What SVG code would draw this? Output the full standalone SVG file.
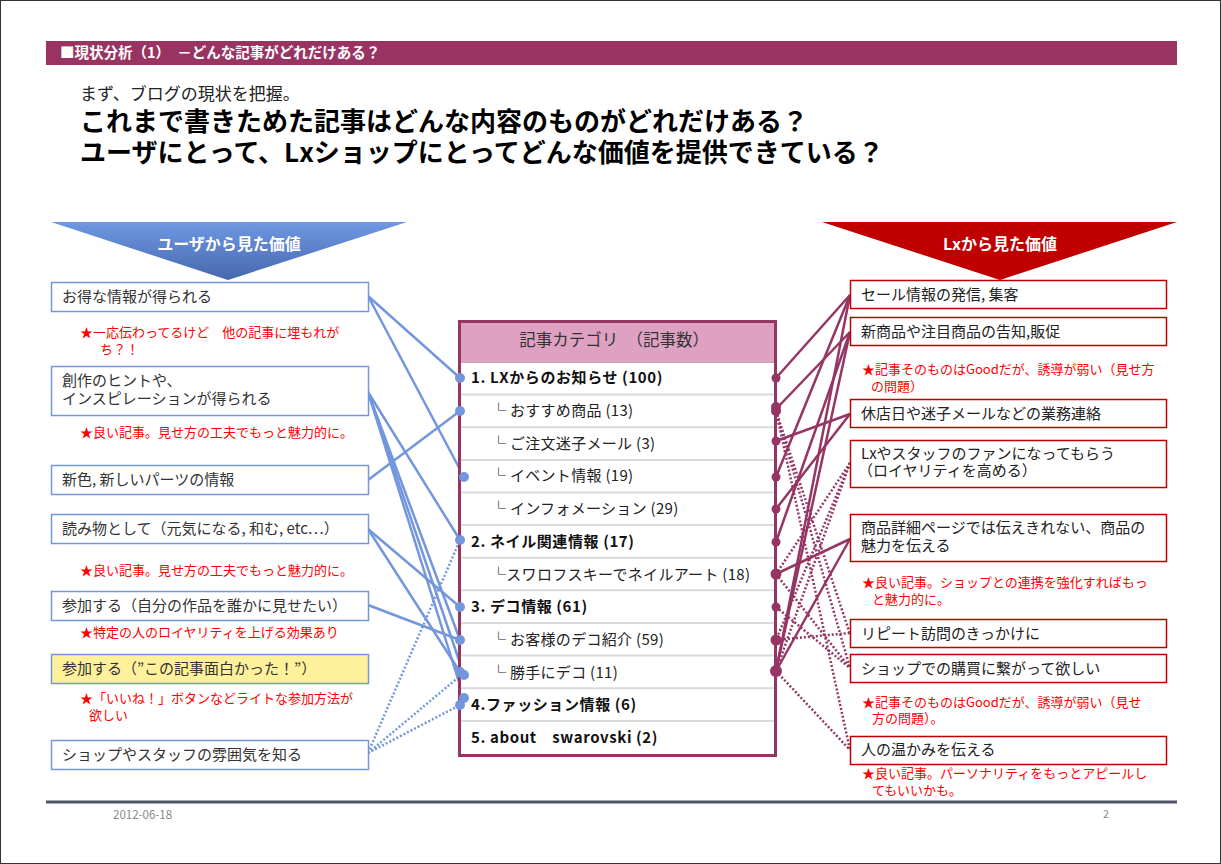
<svg xmlns="http://www.w3.org/2000/svg" width="1221" height="864" viewBox="0 0 1221 864">
<defs>
<linearGradient id="gBlue" x1="0" y1="0" x2="0" y2="1">
<stop offset="0" stop-color="#6f98e3"/>
<stop offset="1" stop-color="#4667ad"/>
</linearGradient>
<style>
text{font-family:"Noto Sans CJK JP","Noto Sans",sans-serif;}
.lbox{fill:#fff;stroke:#7396dc;stroke-width:1.5;}
.rbox{fill:#fff;stroke:#c00000;stroke-width:1.5;}
.bt{font-size:15px;fill:#333;}
.note{font-size:13px;fill:#ff0000;}
.lc{stroke:#7396dc;stroke-width:2.5;fill:none;}
.ld{stroke:#7396dc;stroke-width:2.5;fill:none;stroke-dasharray:2 2;}
.rc{stroke:#953563;stroke-width:2.5;fill:none;}
.rd{stroke:#953563;stroke-width:2.5;fill:none;stroke-dasharray:2 2;}
.ldot{fill:#7396dc;}
.rdot{fill:#953563;}
.row{font-size:15px;fill:#222;letter-spacing:0.3px;}
.rowb{font-size:15px;fill:#111;font-weight:bold;letter-spacing:0.6px;}
.sep{stroke:#dadada;stroke-width:2;}
</style>
</defs>
<rect x="0.5" y="0.5" width="1220" height="863" fill="#fff" stroke="#333" stroke-width="1"/>

<g id="header">
<rect x="46" y="41" width="1131" height="24" fill="#993462"/>
<text x="60" y="58" style="font-size:14.5px;font-weight:bold;fill:#fff;">■現状分析（1）　－どんな記事がどれだけある？</text>
<text x="80" y="100" style="font-size:17px;fill:#222;">まず、ブログの現状を把握。</text>
<text x="80" y="131" style="font-size:26px;font-weight:bold;fill:#000;">これまで書きためた記事はどんな内容のものがどれだけある？</text>
<text x="80" y="162" style="font-size:26px;font-weight:bold;fill:#000;">ユーザにとって、Lxショップにとってどんな価値を提供できている？</text>
</g>

<g id="banner-user">
<polygon points="51,222 407,222 228,280" fill="url(#gBlue)"/>
<text x="229" y="250" text-anchor="middle" style="font-size:16px;font-weight:bold;fill:#fff;">ユーザから見た価値</text>
</g>
<g id="banner-lx">
<polygon points="822,222 1177,222 1000,280" fill="#c00000"/>
<text x="1000" y="250" text-anchor="middle" style="font-size:16px;font-weight:bold;fill:#fff;">Lxから見た価値</text>
</g>

<g id="connectors">
<line class="lc" x1="368" y1="296" x2="460" y2="378"/>
<line class="lc" x1="368" y1="296" x2="464" y2="477"/>
<line class="lc" x1="368" y1="392" x2="460" y2="540"/>
<line class="lc" x1="368" y1="392" x2="460" y2="640"/>
<line class="lc" x1="368" y1="392" x2="464" y2="675"/>
<line class="lc" x1="368" y1="392" x2="464" y2="698"/>
<line class="lc" x1="368" y1="480" x2="460" y2="411"/>
<line class="lc" x1="368" y1="529" x2="460" y2="607"/>
<line class="lc" x1="368" y1="529" x2="460" y2="672"/>
<line class="lc" x1="368" y1="605" x2="460" y2="640"/>
<line class="ld" x1="368" y1="753" x2="460" y2="540"/>
<line class="ld" x1="368" y1="753" x2="460" y2="676"/>
<line class="ld" x1="368" y1="753" x2="460" y2="705"/>

<line class="rc" x1="850" y1="295" x2="776" y2="378"/>
<line class="rc" x1="850" y1="295" x2="776" y2="477"/>
<line class="rc" x1="850" y1="295" x2="776" y2="671"/>
<line class="rc" x1="850" y1="332" x2="776" y2="409"/>
<line class="rc" x1="850" y1="332" x2="776" y2="542"/>
<line class="rc" x1="850" y1="332" x2="776" y2="671"/>
<line class="rc" x1="850" y1="414" x2="776" y2="441"/>
<line class="rc" x1="850" y1="414" x2="776" y2="509"/>
<line class="rc" x1="850" y1="539" x2="776" y2="574"/>
<line class="rc" x1="850" y1="539" x2="776" y2="671"/>
<line class="rd" x1="850" y1="463" x2="776" y2="574"/>
<line class="rd" x1="850" y1="463" x2="776" y2="640"/>
<line class="rd" x1="850" y1="463" x2="776" y2="671"/>
<line class="rd" x1="776" y1="411" x2="850" y2="634"/>
<line class="rd" x1="776" y1="411" x2="850" y2="668"/>
<line class="rd" x1="776" y1="411" x2="850" y2="750"/>
<line class="rd" x1="776" y1="574" x2="850" y2="668"/>
<line class="rd" x1="776" y1="607" x2="850" y2="668"/>
<line class="rd" x1="776" y1="640" x2="850" y2="633"/>
<line class="rd" x1="776" y1="671" x2="850" y2="750"/>
</g>

<g id="user-1">
<rect class="lbox" x="51.5" y="282.5" width="317" height="29"/>
<text class="bt" x="62" y="302">お得な情報が得られる</text>
</g>
<text class="note" x="80" y="337">★一応伝わってるけど　他の記事に埋もれが</text>
<text class="note" x="100" y="354">ち？！</text>
<g id="user-2">
<rect class="lbox" x="51.5" y="366.5" width="317" height="49"/>
<text class="bt" x="62" y="386">創作のヒントや、</text>
<text class="bt" x="62" y="404">インスピレーションが得られる</text>
</g>
<text class="note" x="80" y="437">★良い記事。見せ方の工夫でもっと魅力的に。</text>
<g id="user-3">
<rect class="lbox" x="51.5" y="465.5" width="317" height="29"/>
<text class="bt" x="62" y="485">新色, 新しいパーツの情報</text>
</g>
<g id="user-4">
<rect class="lbox" x="51.5" y="514.5" width="317" height="29"/>
<text class="bt" x="62" y="534">読み物として（元気になる, 和む, etc…）</text>
</g>
<text class="note" x="80" y="575">★良い記事。見せ方の工夫でもっと魅力的に。</text>
<g id="user-5">
<rect class="lbox" x="51.5" y="591.5" width="317" height="29"/>
<text class="bt" x="62" y="611">参加する（自分の作品を誰かに見せたい）</text>
</g>
<text class="note" x="80" y="637">★特定の人のロイヤリティを上げる効果あり</text>
<g id="user-6">
<rect class="lbox" x="51.5" y="654.5" width="317" height="29" style="fill:#fff09b;"/>
<text class="bt" x="62" y="674">参加する（”この記事面白かった！”）</text>
</g>
<text class="note" x="80" y="703">★「いいね！」ボタンなどライトな参加方法が</text>
<text class="note" x="89" y="720">欲しい</text>
<g id="user-7">
<rect class="lbox" x="51.5" y="740.5" width="317" height="29"/>
<text class="bt" x="62" y="760">ショップやスタッフの雰囲気を知る</text>
</g>

<g id="category-table">
<rect x="459.5" y="321.5" width="316" height="434" fill="#fff"/>
<rect x="459.5" y="321.5" width="316" height="41" fill="#dfa1c1"/>
<line class="sep" x1="461" y1="394.5" x2="774" y2="394.5"/>
<line class="sep" x1="461" y1="427.3" x2="774" y2="427.3"/>
<line class="sep" x1="461" y1="460" x2="774" y2="460"/>
<line class="sep" x1="461" y1="492.5" x2="774" y2="492.5"/>
<line class="sep" x1="461" y1="525" x2="774" y2="525"/>
<line class="sep" x1="461" y1="557.7" x2="774" y2="557.7"/>
<line class="sep" x1="461" y1="590.3" x2="774" y2="590.3"/>
<line class="sep" x1="461" y1="623" x2="774" y2="623"/>
<line class="sep" x1="461" y1="655.5" x2="774" y2="655.5"/>
<line class="sep" x1="461" y1="688.3" x2="774" y2="688.3"/>
<line class="sep" x1="461" y1="721" x2="774" y2="721"/>
<line x1="459.5" y1="362.5" x2="775.5" y2="362.5" stroke="#c9a0b5" stroke-width="1"/>
<rect x="459.5" y="321.5" width="316" height="434" fill="none" stroke="#953563" stroke-width="3"/>
<text x="614" y="346" text-anchor="middle" style="font-size:16.5px;fill:#333;">記事カテゴリ　（記事数）</text>
<text class="rowb" x="471" y="383">1. LXからのお知らせ (100)</text>
<text class="row" x="491" y="416">└ おすすめ商品 (13)</text>
<text class="row" x="491" y="449">└ ご注文迷子メール (3)</text>
<text class="row" x="491" y="481">└ イベント情報 (19)</text>
<text class="row" x="491" y="514">└ インフォメーション (29)</text>
<text class="rowb" x="471" y="547">2. ネイル関連情報 (17)</text>
<text class="row" x="491" y="580">└スワロフスキーでネイルアート (18)</text>
<text class="rowb" x="471" y="612">3. デコ情報 (61)</text>
<text class="row" x="491" y="645">└ お客様のデコ紹介 (59)</text>
<text class="row" x="491" y="678">└ 勝手にデコ (11)</text>
<text class="rowb" x="471" y="710">4.ファッション情報 (6)</text>
<text class="rowb" x="471" y="743">5. about　swarovski (2)</text>
</g>

<g id="dots">
<circle class="ldot" cx="460" cy="378" r="5"/>
<circle class="ldot" cx="460" cy="411" r="5"/>
<circle class="ldot" cx="464" cy="477" r="5"/>
<circle class="ldot" cx="460" cy="540" r="5"/>
<circle class="ldot" cx="460" cy="607" r="5"/>
<circle class="ldot" cx="460" cy="640" r="5"/>
<circle class="ldot" cx="460" cy="672" r="5"/>
<circle class="ldot" cx="464" cy="675" r="5"/>
<circle class="ldot" cx="464" cy="698" r="5"/>
<circle class="ldot" cx="460" cy="705" r="5"/>
<circle class="rdot" cx="776" cy="378" r="4.5"/>
<circle class="rdot" cx="776" cy="407" r="5"/>
<circle class="rdot" cx="776" cy="411" r="5"/>
<circle class="rdot" cx="776" cy="441" r="4.5"/>
<circle class="rdot" cx="776" cy="477" r="4.5"/>
<circle class="rdot" cx="776" cy="509" r="4.5"/>
<circle class="rdot" cx="776" cy="542" r="4.5"/>
<circle class="rdot" cx="776" cy="574" r="5.5"/>
<circle class="rdot" cx="776" cy="607" r="4.5"/>
<circle class="rdot" cx="776" cy="640" r="5.5"/>
<circle class="rdot" cx="776" cy="671" r="6"/>
</g>

<g id="lx-1">
<rect class="rbox" x="850.5" y="280.5" width="316" height="28"/>
<text class="bt" x="861" y="300" style="fill:#222;">セール情報の発信, 集客</text>
</g>
<g id="lx-2">
<rect class="rbox" x="850.5" y="317.5" width="316" height="28"/>
<text class="bt" x="861" y="337" style="fill:#222;">新商品や注目商品の告知,販促</text>
</g>
<text class="note" x="862" y="374">★記事そのものはGoodだが、誘導が弱い（見せ方</text>
<text class="note" x="871" y="391">の問題）</text>
<g id="lx-3">
<rect class="rbox" x="850.5" y="399.5" width="316" height="28"/>
<text class="bt" x="861" y="419" style="fill:#222;">休店日や迷子メールなどの業務連絡</text>
</g>
<g id="lx-4">
<rect class="rbox" x="850.5" y="440.5" width="316" height="47"/>
<text class="bt" x="861" y="459" style="fill:#222;">Lxやスタッフのファンになってもらう</text>
<text class="bt" x="858" y="476" style="fill:#222;">（ロイヤリティを高める）</text>
</g>
<g id="lx-5">
<rect class="rbox" x="850.5" y="514.5" width="316" height="47"/>
<text class="bt" x="861" y="533" style="fill:#222;">商品詳細ページでは伝えきれない、商品の</text>
<text class="bt" x="861" y="551" style="fill:#222;">魅力を伝える</text>
</g>
<text class="note" x="862" y="587">★良い記事。ショップとの連携を強化すればもっ</text>
<text class="note" x="872" y="604">と魅力的に。</text>
<g id="lx-6">
<rect class="rbox" x="850.5" y="619.5" width="316" height="28"/>
<text class="bt" x="861" y="639" style="fill:#222;">リピート訪問のきっかけに</text>
</g>
<g id="lx-7">
<rect class="rbox" x="850.5" y="654.5" width="316" height="28"/>
<text class="bt" x="861" y="674" style="fill:#222;">ショップでの購買に繋がって欲しい</text>
</g>
<text class="note" x="862" y="707">★記事そのものはGoodだが、誘導が弱い（見せ</text>
<text class="note" x="872" y="723">方の問題）。</text>
<g id="lx-8">
<rect class="rbox" x="850.5" y="736.5" width="316" height="28"/>
<text class="bt" x="861" y="755" style="fill:#222;">人の温かみを伝える</text>
</g>
<text class="note" x="862" y="778">★良い記事。パーソナリティをもっとアピールし</text>
<text class="note" x="872" y="795">てもいいかも。</text>

<g id="footer">
<line x1="46" y1="802" x2="1177" y2="802" stroke="#4f5563" stroke-width="3"/>
<text x="113" y="819" style="font-size:11.5px;fill:#888;">2012-06-18</text>
<text x="1103" y="818" style="font-size:11px;fill:#888;">2</text>
</g>
</svg>
